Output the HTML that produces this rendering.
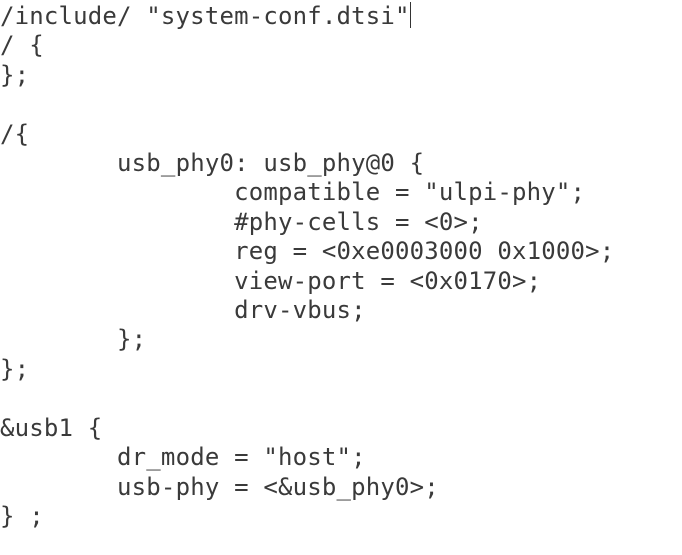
<!DOCTYPE html>
<html><head><meta charset="utf-8"><style>
html,body{margin:0;padding:0;background:#fff;width:682px;height:555px;overflow:hidden}
pre{margin:0;padding:2px 0 0 0;font-family:"DejaVu Sans Mono","Liberation Mono",monospace;font-size:24px;letter-spacing:0.18px;line-height:29.4px;color:#3a3a3a;tab-size:8;-moz-tab-size:8}
.cur{display:inline-block;width:1px;height:26px;background:#333;vertical-align:-4px}
</style></head><body><pre>/include/ "system-conf.dtsi"<span class="cur"></span>
/ {
};

/{
	usb_phy0: usb_phy@0 {
		compatible = "ulpi-phy";
		#phy-cells = &lt;0&gt;;
		reg = &lt;0xe0003000 0x1000&gt;;
		view-port = &lt;0x0170&gt;;
		drv-vbus;
	};
};

&amp;usb1 {
	dr_mode = "host";
	usb-phy = &lt;&amp;usb_phy0&gt;;
} ;
</pre></body></html>
